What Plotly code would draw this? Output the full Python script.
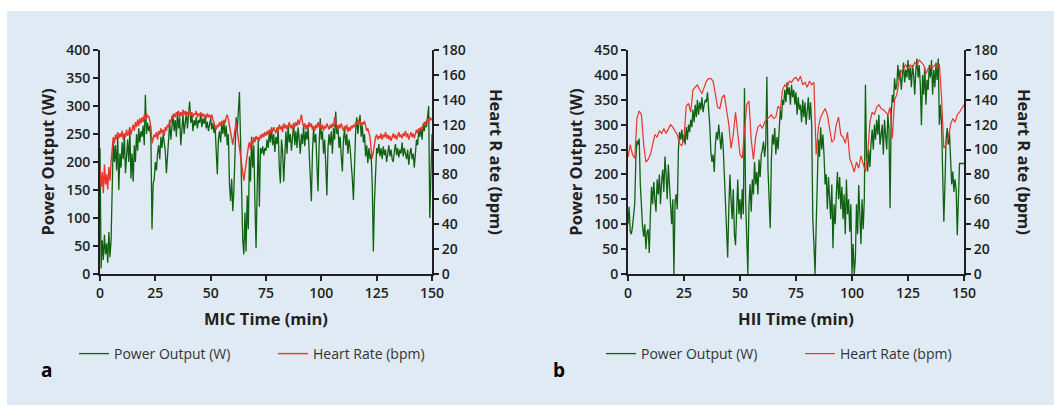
import plotly.graph_objects as go

# ---------------- data ----------------
# Panel a: MIC session, samples every 0.5 min from 0 to 150 min
mic_power = [
    225, 10, 60, 25, 70, 35, 55, 20, 75, 30,
    60, 180, 240, 200, 230, 185, 245, 150, 215, 190,
    235, 205, 250, 180, 225, 240, 200, 255, 170, 215,
    165, 230, 200, 250, 220, 260, 235, 255, 245, 265,
    230, 320, 250, 270, 255, 265, 240, 80, 160, 170,
    200, 185, 215, 230, 205, 245, 225, 250, 235, 220,
    180, 215, 250, 270, 240, 265, 285, 255, 275, 245,
    290, 260, 280, 230, 270, 285, 250, 275, 290, 260,
    280, 308, 270, 285, 255, 275, 265, 280, 260, 275,
    270, 285, 262, 278, 268, 282, 260, 272, 255, 268,
    278, 258, 270, 252, 265, 220, 178, 240, 255, 235,
    268, 250, 272, 245, 265, 230, 250, 160, 130, 170,
    112, 150, 230, 280, 255, 290, 325, 240, 130, 60,
    35, 110, 40, 140, 80, 210, 165, 245, 190, 230,
    130, 46, 150, 240, 120, 225, 215, 228, 212, 225,
    220, 240, 225, 255, 235, 262, 230, 250, 218, 245,
    232, 258, 190, 162, 240, 220, 165, 230, 255, 215,
    265, 235, 250, 220, 245, 270, 230, 255, 225, 262,
    240, 215, 250, 232, 265, 228, 255, 240, 262, 225,
    168, 130, 220, 260, 235, 250, 195, 148, 230, 278,
    240, 255, 215, 240, 195, 140, 225, 250, 230, 255,
    215, 260, 240, 290, 250, 265, 225, 245, 210, 183,
    240, 260, 230, 250, 215, 240, 225, 200, 170, 132,
    220, 255, 280, 250, 270, 284, 245, 265, 235, 250,
    210, 230, 198, 225, 205, 215, 160, 40, 130, 200,
    225, 215, 232, 210, 225, 205, 228, 212, 222, 200,
    218, 230, 210, 222, 205, 200, 220, 232, 212, 225,
    208, 222, 215, 235, 210, 225, 215, 205, 222, 195,
    215, 225, 205, 215, 190, 215, 240, 230, 255, 245,
    262, 240, 268, 255, 272, 262, 280, 300, 100, 180,
    250,
]
mic_hr = [
    85, 70, 82, 65, 88, 72, 80, 68, 86, 75,
    90, 100, 110, 105, 112, 108, 114, 109, 113, 110,
    115, 108, 113, 110, 116, 111, 114, 118, 112, 115,
    120, 115, 122, 118, 124, 119, 125, 121, 126, 122,
    128, 124, 129, 126, 127, 123, 118, 105, 108, 112,
    110, 114, 108, 115, 112, 117, 113, 116, 111, 118,
    115, 120, 118, 124, 121, 127, 125, 129, 126, 130,
    128, 131, 126, 130, 127, 132, 128, 131, 127, 130,
    128, 132, 127, 130, 126, 129, 128, 131, 126, 129,
    127, 130, 126, 129, 127, 128, 125, 129, 126, 128,
    125, 128, 124, 122, 118, 116, 120, 118, 122, 119,
    123, 120, 124, 121, 126, 128, 124, 118, 112, 106,
    104, 110, 118, 122, 115, 108, 100, 92, 85, 78,
    75, 82, 90, 96, 102, 106, 100, 108, 104, 110,
    106, 111, 108, 110, 107, 112, 109, 113, 110, 114,
    111, 115, 112, 116, 113, 117, 114, 118, 115, 113,
    118, 115, 120, 116, 119, 114, 121, 117, 120, 116,
    119, 122, 117, 120, 116, 121, 118, 122, 119, 124,
    120, 126, 128, 122, 118, 121, 116, 120, 117, 122,
    118, 121, 116, 119, 115, 120, 117, 122, 118, 121,
    116, 120, 115, 119, 117, 121, 118, 116, 120, 117,
    121, 118, 126, 122, 119, 116, 120, 117, 121, 118,
    115, 119, 116, 120, 114, 118, 115, 119, 117, 120,
    118, 122, 120, 124, 121, 123, 119, 122, 120, 123,
    118, 115, 117, 112, 110, 100, 93, 98, 105, 110,
    112, 108, 111, 109, 113, 108, 112, 110, 114, 109,
    112, 108, 111, 107, 110, 113, 109, 112, 108, 111,
    114, 110, 112, 109, 113, 111, 115, 110, 113, 108,
    111, 114, 110, 113, 109, 112, 116, 113, 117, 115,
    118, 116, 120, 122, 119, 123, 125, 122, 126, 124,
    125,
]

# Panel b: HII session, power every 0.5 min, heart rate every 1 min
hii_power = [
    100, 135, 85, 80, 95, 115, 140, 230, 268, 260,
    272, 180, 122, 95, 75, 100, 50, 85, 90, 42,
    120, 175, 140, 185, 150, 125, 190, 160, 200, 140,
    185, 210, 165, 236, 200, 150, 220, 175, 120, 100,
    150, 0, 145, 160, 130, 250, 285, 270, 290, 265,
    280, 260, 295, 270, 300, 285, 310, 295, 330, 305,
    340, 315, 350, 320, 345, 330, 355, 325, 340, 350,
    345, 365, 330, 300, 245, 225, 240, 205, 260, 285,
    270, 300, 275, 250, 285, 255, 200, 150, 90, 33,
    130, 200, 150, 110, 170, 80, 58, 140, 190, 120,
    150, 110, 170, 120, 373, 150, 60, 0, 140, 180,
    125, 190, 160, 225, 180, 205, 160, 230, 195, 240,
    250, 266, 235, 260, 396, 210, 150, 92, 230, 280,
    260, 293, 240, 275, 250, 290, 330, 310, 350, 340,
    370, 345, 385, 360, 375, 340, 380, 355, 370, 340,
    365, 320, 355, 330, 340, 305, 350, 315, 345, 300,
    330, 355, 310, 345, 300, 110, 60, 0, 95, 180,
    270, 235, 295, 250, 280, 240, 180, 200, 130, 195,
    160, 110, 180, 52, 140, 100, 160, 205, 150, 195,
    130, 175, 110, 160, 80, 190, 120, 150, 85, 140,
    0, 60, 0, 30, 140, 80, 179, 120, 60, 150,
    90, 150, 380, 230, 206, 250, 215, 262, 290, 250,
    300, 270, 310, 280, 320, 260, 290, 300, 240, 310,
    280, 250, 320, 290, 132, 320, 360, 345, 393, 370,
    380, 420, 390, 410, 370, 400, 425, 385, 410, 395,
    430, 390, 415, 375, 420, 400, 360, 410, 433, 395,
    420, 380, 299, 400, 360, 415, 340, 390, 370, 420,
    395, 430, 360, 410, 375, 425, 390, 433, 300, 340,
    300, 200, 105, 180, 270, 293, 260, 285, 230, 180,
    206, 165, 190, 170, 78, 180, 222, 222, 222, 222,
    222,
]
hii_hr = [
    94, 104, 96, 93, 125, 131, 128, 104, 90, 92,
    96, 105, 112, 110, 115, 113, 117, 113, 116, 120,
    118, 115, 112, 105, 103, 110, 135, 137, 130, 148,
    150, 152, 148, 145, 150, 155, 157, 157, 155, 145,
    134, 133, 142, 144, 130, 120, 101, 112, 130, 110,
    96, 93, 118, 136, 139, 108, 92, 110, 118, 120,
    117, 122, 125, 126, 128, 125, 126, 135, 132, 148,
    152, 150, 155, 154, 157, 158, 155, 159, 152, 154,
    150, 155, 152, 154, 96, 118, 126, 130, 133, 128,
    117, 106, 108, 120, 126, 112, 110, 105, 114, 93,
    88, 82, 90, 85, 95, 88, 82, 96, 122, 130,
    128, 134, 136, 133, 132, 130, 128, 134, 109, 140,
    144, 155, 163, 165, 168, 165, 168, 166, 170, 168,
    172, 170, 168, 161, 165, 167, 166, 168, 165, 169,
    141, 101, 104, 109, 120, 125, 122, 128, 130, 133,
    136,
]

x_ticks = [0, 25, 50, 75, 100, 125, 150]
mic_time = [i * 0.5 for i in range(len(mic_power))]
mic_hr_time = [i * 0.5 for i in range(len(mic_hr))]
hii_time = [i * 0.5 for i in range(len(hii_power))]
hii_hr_time = [i * 1.0 for i in range(len(hii_hr))]

GREEN = "#0f620f"
RED = "#e8362b"
AXIS = "#231f20"
FONT = "Open Sans"

W, H = 1054, 405


def px(x):
    return x / W


def py(y):
    return 1 - y / H


fig = go.Figure()

# Panel a
fig.add_trace(go.Scatter(x=mic_hr_time, y=mic_hr, mode="lines", name="Heart Rate (bpm)",
                         line=dict(color=RED, width=1.4), xaxis="x", yaxis="y2",
                         legend="legend", legendrank=2))
fig.add_trace(go.Scatter(x=mic_time, y=mic_power, mode="lines", name="Power Output (W)",
                         line=dict(color=GREEN, width=1.3), xaxis="x", yaxis="y",
                         legend="legend", legendrank=1))
# Panel b
fig.add_trace(go.Scatter(x=hii_hr_time, y=hii_hr, mode="lines", name="Heart Rate (bpm)",
                         line=dict(color=RED, width=1.2), xaxis="x2", yaxis="y4",
                         legend="legend2", legendrank=2))
fig.add_trace(go.Scatter(x=hii_time, y=hii_power, mode="lines", name="Power Output (W)",
                         line=dict(color=GREEN, width=1.3), xaxis="x2", yaxis="y3",
                         legend="legend2", legendrank=1))

tickfont = dict(family=FONT, size=14, color=AXIS, weight=600)
titlefont = dict(family=FONT, size=16.5, color=AXIS, weight="bold")

common_axis = dict(showline=True, linecolor=AXIS, linewidth=2, ticks="outside",
                   ticklen=5, tickwidth=2, tickcolor=AXIS, showgrid=False,
                   zeroline=False, tickfont=tickfont, fixedrange=True, automargin=False)

ydom = [py(274), py(50)]
legfont = dict(family=FONT, size=14, color="#333333")

fig.update_layout(
    width=W, height=H,
    margin=dict(l=0, r=0, t=0, b=0, autoexpand=False),
    paper_bgcolor="white",
    plot_bgcolor="rgba(0,0,0,0)",
    xaxis=dict(domain=[px(100), px(432)], range=[0, 150], tickvals=x_ticks,
               anchor="y", title=dict(text="MIC Time (min)", font=titlefont, standoff=13),
               **common_axis),
    yaxis=dict(domain=ydom, range=[0, 400], dtick=50, anchor="x",
               title=dict(text="Power Output (W)", font=titlefont, standoff=7),
               **common_axis),
    yaxis2=dict(range=[0, 180], dtick=20, overlaying="y", side="right", anchor="x",
                **common_axis),
    xaxis2=dict(domain=[px(628), px(964)], range=[0, 150], tickvals=x_ticks,
                anchor="y3", title=dict(text="HII Time (min)", font=titlefont, standoff=13),
                **common_axis),
    yaxis3=dict(domain=ydom, range=[0, 450], dtick=50, anchor="x2",
                title=dict(text="Power Output (W)", font=titlefont, standoff=7),
                **common_axis),
    yaxis4=dict(range=[0, 180], dtick=20, overlaying="y3", side="right", anchor="x2",
                **common_axis),
    legend=dict(orientation="h", x=px(74), y=py(354), xanchor="left", yanchor="middle",
                font=legfont, bgcolor="rgba(0,0,0,0)", itemwidth=30, tracegroupgap=0,
                entrywidth=154),
    legend2=dict(orientation="h", x=px(601), y=py(354), xanchor="left", yanchor="middle",
                 font=legfont, bgcolor="rgba(0,0,0,0)", itemwidth=30, tracegroupgap=0,
                 entrywidth=154),
    showlegend=True,
    shapes=[dict(type="rect", xref="paper", yref="paper", x0=px(7), x1=1, y0=0, y1=py(11),
                 fillcolor="#e0eaf4", line=dict(width=0), layer="below")],
    annotations=[
        dict(text="Heart R ate (bpm)", x=px(497), y=py(162), xref="paper", yref="paper",
             xanchor="center", yanchor="middle", showarrow=False, textangle=90,
             font=titlefont),
        dict(text="Heart R ate (bpm)", x=px(1025), y=py(162), xref="paper", yref="paper",
             xanchor="center", yanchor="middle", showarrow=False, textangle=90,
             font=titlefont),
        dict(text="a", x=px(46), y=py(370), xref="paper", yref="paper", showarrow=False,
             xanchor="center", yanchor="middle",
             font=dict(family=FONT, size=19, color="black", weight="bold")),
        dict(text="b", x=px(559), y=py(370), xref="paper", yref="paper", showarrow=False,
             xanchor="center", yanchor="middle",
             font=dict(family=FONT, size=19, color="black", weight="bold")),
    ],
)

fig.write_html(
    "out.html",
    config={"displayModeBar": False},
    post_script="document.body.style.margin='0';document.documentElement.style.overflow='hidden';",
)
